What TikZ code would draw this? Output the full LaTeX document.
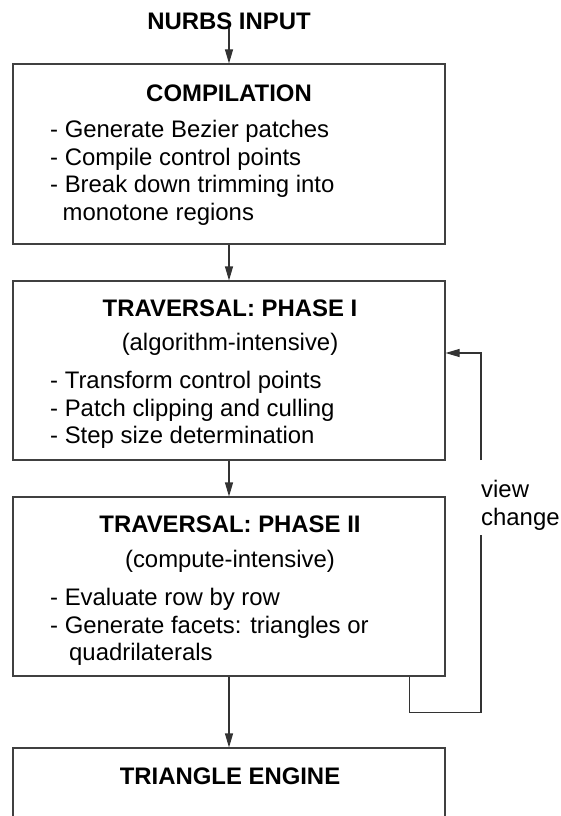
\documentclass[tikz,border=0pt]{standalone}
\usepackage{fontspec}
\setmainfont{Liberation Sans}
\usetikzlibrary{arrows.meta}
\begin{document}
\begin{tikzpicture}[x=1pt,y=-1pt,
  box/.style={draw=black!75, line width=1.1pt, minimum width=432pt, inner sep=0pt},
  ttl/.style={font=\bfseries\fontsize{23.9}{27.7}\selectfont, anchor=base, inner sep=0pt},
  sub/.style={font=\fontsize{23.9}{27.7}\selectfont, anchor=base, inner sep=0pt},
  lst/.style={font=\fontsize{23.9}{27.7}\selectfont, inner sep=0pt, align=left, anchor=north west},
  arr/.style={draw=black!80, line width=1.1pt, -{Triangle[length=14pt,width=8pt]}},
  ln/.style={draw=black!80, line width=1.1pt}]
\useasboundingbox (0,0) rectangle (561,816);
\clip (0,0) rectangle (561,816);

% boxes
\node[box, minimum height=180pt] (comp) at (229,154) {};
\node[box, minimum height=179pt] (ph1) at (229,370.5) {};
\node[box, minimum height=179pt] (ph2) at (229,586.5) {};
\node[box, minimum height=180pt] (tri) at (229,838) {};

% texts
\node[ttl] (in) at (229,30) {NURBS INPUT};
\node[ttl] (t1) at (229,101) {COMPILATION};
\node[lst] (l1) at (50,120) {- Generate Bezier patches\\- Compile control points\\- Break down trimming into\\\hspace*{12.5pt}monotone regions};

\node[ttl] (t2) at (230,316) {TRAVERSAL: PHASE I};
\node[sub] (s2) at (230,350) {(algorithm-intensive)};
\node[lst] (l2) at (50,371) {- Transform control points\\- Patch clipping and culling\\- Step size determination};

\node[ttl] (t3) at (230,532) {TRAVERSAL: PHASE II};
\node[sub] (s3) at (230,567) {(compute-intensive)};
\node[lst] (l3) at (50,588) {- Evaluate row by row\\- Generate facets: triangles or\\\hspace*{19pt}quadrilaterals};

\node[ttl] (t4) at (230,784) {TRIANGLE ENGINE};

\node[lst] (vc) at (481,480) {view\\change};

% connectors
\draw[arr] ([yshift=2pt]in.base) -- (comp.north);
\draw[arr] (comp.south) -- (ph1.north);
\draw[arr] (ph1.south) -- (ph2.north);
\draw[arr] (ph2.south) -- (tri.north);

\coordinate (fb1) at ([xshift=-36pt]ph2.south east);
\coordinate (vcb) at (481,535);
\coordinate (vct) at (481,460);
\draw[ln] (fb1) -- ++(0,36) -| (vcb);
\draw[arr] (vct) |- ([yshift=17.5pt]ph1.east);
\end{tikzpicture}
\end{document}
